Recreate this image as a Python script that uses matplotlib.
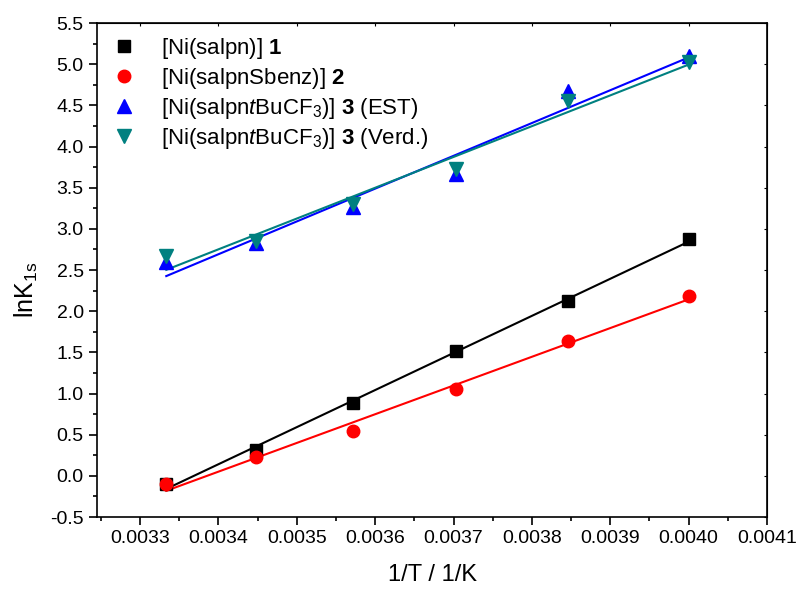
import numpy as np
import matplotlib
matplotlib.use("Agg")
import matplotlib.pyplot as plt
from matplotlib.ticker import MultipleLocator, FormatStrFormatter

plt.rcParams['font.family'] = ['Liberation Sans', 'DejaVu Sans']
plt.rcParams['mathtext.fontset'] = 'custom'
plt.rcParams['mathtext.rm'] = 'Liberation Sans'
plt.rcParams['mathtext.it'] = 'Liberation Sans:italic'
plt.rcParams['mathtext.bf'] = 'Liberation Sans:bold'

# data: 1/T and lnK1s
inv_T = [1/300, 1/290, 1/280, 1/270, 1/260, 1/250]
ln_salpn = [-0.10, 0.31, 0.89, 1.52, 2.12, 2.88]
ln_sbenz = [-0.10, 0.23, 0.54, 1.05, 1.64, 2.19]
ln_cf3_est = [2.60, 2.83, 3.26, 3.67, 4.68, 5.10]
ln_cf3_verd = [2.67, 2.85, 3.30, 3.73, 4.55, 5.03]

labels = [r'[Ni(salpn)] $\mathbf{1}$',
          r'[Ni(salpnSbenz)] $\mathbf{2}$',
          r'[Ni(salpn$\mathit{t}$BuCF$_3$)] $\mathbf{3}$ (EST)',
          r'[Ni(salpn$\mathit{t}$BuCF$_3$)] $\mathbf{3}$ (Verd.)']
colors = ['black', 'red', 'blue', '#008080']
markers = ['s', 'o', '^', 'v']
msizes = [8, 9, 10, 10]

fig = plt.figure(figsize=(7.98, 5.89), dpi=100)
ax = fig.add_axes([0.1216, 0.1222, 0.8396, 0.8387])

x = np.array(inv_T)
series = [ln_salpn, ln_sbenz, ln_cf3_est, ln_cf3_verd]
# fitted lines first
for y, c in zip(series, colors):
    k, b = np.polyfit(x, y, 1)
    xx = np.array([x.min(), x.max()])
    ax.plot(xx, k * xx + b, color=c, lw=1.5, zorder=2)
for y, c, m, s, lab in zip(series, colors, markers, msizes, labels):
    ax.plot(x, y, ls='none', marker=m, color=c, markersize=s, label=lab, zorder=3)

ax.set_xlim(0.003245, 0.0041)
ax.set_ylim(-0.5, 5.5)
ax.xaxis.set_major_locator(MultipleLocator(0.0001))
ax.xaxis.set_minor_locator(MultipleLocator(0.00005))
ax.xaxis.set_major_formatter(FormatStrFormatter('%.4f'))
ax.yaxis.set_major_locator(MultipleLocator(0.5))
ax.yaxis.set_minor_locator(MultipleLocator(0.25))
ax.yaxis.set_major_formatter(FormatStrFormatter('%.1f'))

ax.tick_params(which='major', direction='out', length=6, width=1.2, labelsize=14)
ax.tick_params(which='minor', direction='out', length=3, width=1.2)
for spine in ax.spines.values():
    spine.set_linewidth(1.2)
# small inward ticks on top/right
sec_x = ax.secondary_xaxis('top')
sec_x.xaxis.set_major_locator(MultipleLocator(0.0001))
sec_x.tick_params(direction='in', length=2, labeltop=False)
sec_y = ax.secondary_yaxis('right')
sec_y.yaxis.set_major_locator(MultipleLocator(0.5))
sec_y.tick_params(direction='in', length=2, labelright=False)

ax.set_xlabel('1/T / 1/K', fontsize=17, labelpad=12)
ax.set_ylabel(r'lnK$_{\mathregular{1s}}$', fontsize=18)
ax.yaxis.set_label_coords(-0.085, 0.46)

ax.legend(loc='upper left', bbox_to_anchor=(-0.01, 1.005), frameon=False,
          fontsize=16, handletextpad=0.9, labelspacing=0.22, borderaxespad=0.3,
          handlelength=1.6)

fig.savefig('out.png', dpi=100)
